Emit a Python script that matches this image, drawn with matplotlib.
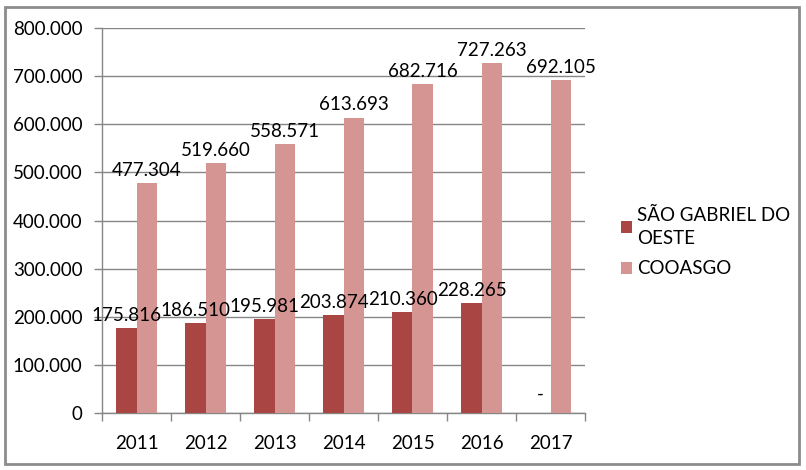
import matplotlib
matplotlib.use("Agg")
import matplotlib.pyplot as plt
from matplotlib.patches import Rectangle
import numpy as np

years = ["2011", "2012", "2013", "2014", "2015", "2016", "2017"]
series_names = ["SÃO GABRIEL DO\nOESTE", "COOASGO"]
sgo = [175816, 186510, 195981, 203874, 210360, 228265, 0]
cooasgo = [477304, 519660, 558571, 613693, 682716, 727263, 692105]
colors = ["#A94542", "#D59593"]

plt.rcParams['font.family'] = ['Lato', 'DejaVu Sans']

def fmt(v):
    if v == 0:
        return "-"
    return f"{v:,}".replace(",", ".")

fig = plt.figure(figsize=(8.06, 4.70), dpi=100)
fig.patches.append(Rectangle((5/806, 1-464/470), 794/806, 457/470, transform=fig.transFigure,
                             fill=False, edgecolor="#8c8c8c", linewidth=2))
ax = fig.add_axes([102/806, 1-413/470, 483/806, 385/470])

x = np.arange(len(years))
w = 0.29
b1 = ax.bar(x - w/2, sgo, w, color=colors[0], label=series_names[0], zorder=3)
b2 = ax.bar(x + w/2, cooasgo, w, color=colors[1], label=series_names[1], zorder=3)

fs = 13.5
for bars, vals in ((b1, sgo), (b2, cooasgo)):
    for r, v in zip(bars, vals):
        y = r.get_height()
        ax.annotate(fmt(v), (r.get_x() + r.get_width()/2, y if v else 12000), xytext=(0, 3),
                    textcoords="offset points", ha="center", va="bottom", fontsize=fs, zorder=4)

ax.set_xlim(-0.5, len(years) - 0.5)
ax.set_ylim(0, 800000)
yt = np.arange(0, 800001, 100000)
ax.set_yticks(yt)
ax.set_yticklabels(["0" if t == 0 else f"{int(t):,}".replace(",", ".") for t in yt], fontsize=fs)
ax.set_xticks(x)
ax.set_xticklabels(years, fontsize=fs)
ax.set_xticks(np.arange(-0.5, len(years)), minor=True)
ax.tick_params(axis="x", which="major", length=0, pad=16)
ax.tick_params(axis="x", which="minor", length=6, color="#868686", width=1)
ax.tick_params(axis="y", length=6, color="#868686", width=1, pad=8)
ax.yaxis.grid(True, color="#868686", linewidth=1, zorder=0)
for s in ("top", "right"):
    ax.spines[s].set_visible(False)
for s in ("left", "bottom"):
    ax.spines[s].set_color("#868686")
    ax.spines[s].set_linewidth(1)

leg = fig.legend(handles=[b1, b2], labels=series_names, loc="center left",
                 bbox_to_anchor=(604/806, 1-242/470), frameon=False, fontsize=fs,
                 handlelength=0.6, handleheight=0.6, handletextpad=0.25, labelspacing=0.7)
for t in leg.get_texts():
    t.set_linespacing(1.45)

fig.savefig("out.png", dpi=100)
